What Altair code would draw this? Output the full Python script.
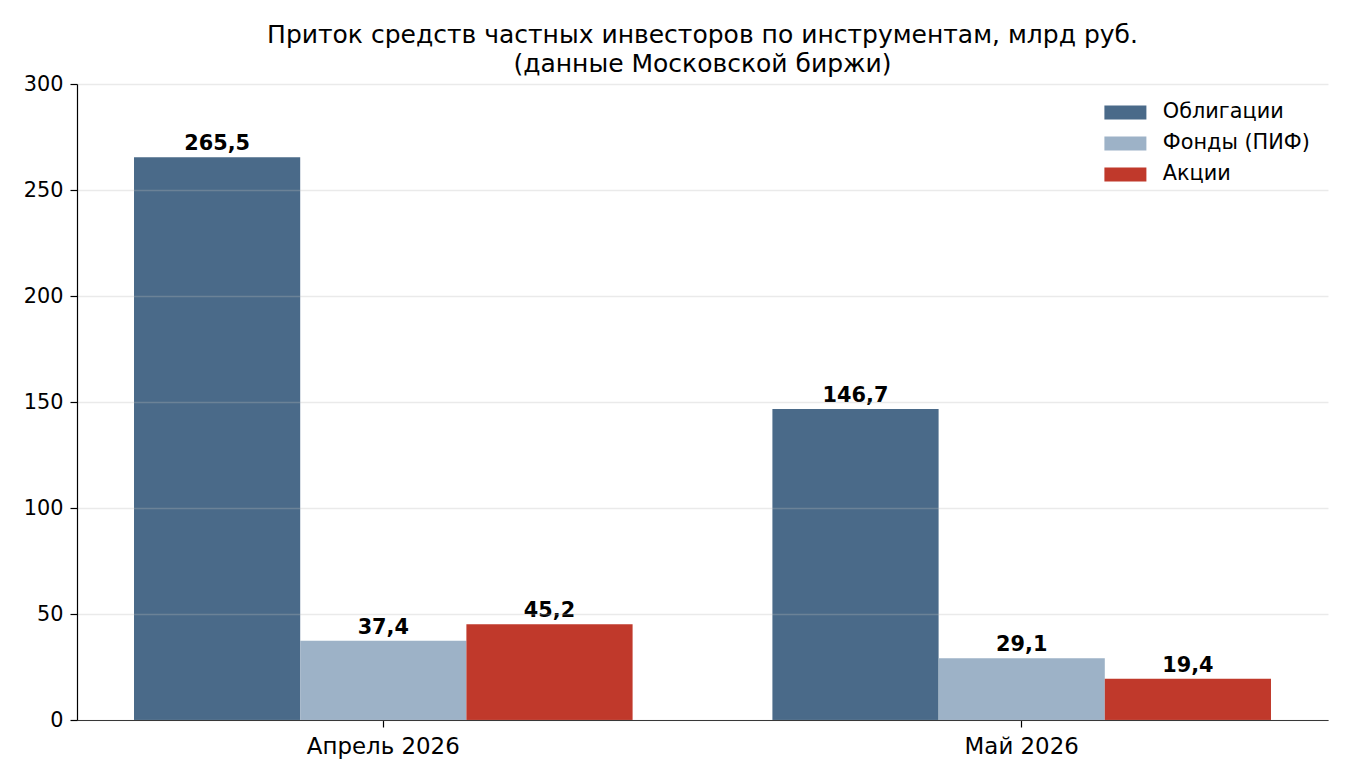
import altair as alt
import pandas as pd

# Monthly inflows by instrument, bn RUB
months = ["Апрель 2026", "Май 2026"]
instruments = ["Облигации", "Фонды (ПИФ)", "Акции"]
bonds = [265.5, 146.7]
funds = [37.4, 29.1]
stocks = [45.2, 19.4]
colors = ["#4a6a89", "#9db2c7", "#c0392b"]
y_ticks = [0, 50, 100, 150, 200, 250, 300]

rows = []
for series, name in zip([bonds, funds, stocks], instruments):
    for month, v in zip(months, series):
        rows.append({
            "month": month,
            "instrument": name,
            "value": v,
            "label": f"{v:.1f}".replace(".", ","),
        })
df = pd.DataFrame(rows)

FONT = "DejaVu Sans"
FS = 20.8

x_enc = alt.X(
    "month:N",
    sort=months,
    title=None,
    scale=alt.Scale(paddingInner=0.219, paddingOuter=0.0893),
    axis=alt.Axis(
        labelAngle=0, labelFontSize=22.9, labelColor="black", labelFont=FONT,
        labelPadding=8, tickSize=7, tickColor="black", domainColor="black",
        domainWidth=1.2, tickWidth=1.2, grid=False,
    ),
)
xoff = alt.XOffset("instrument:N", sort=instruments, scale=alt.Scale(paddingInner=0, paddingOuter=0))
y_enc = alt.Y(
    "value:Q",
    title=None,
    scale=alt.Scale(domain=[0, 300], nice=False),
    axis=alt.Axis(
        values=y_ticks, labelFontSize=FS, labelColor="black", labelFont=FONT,
        labelPadding=7, tickSize=7, tickColor="black", domainColor="black",
        domainWidth=1.2, tickWidth=1.2, grid=True, gridColor="#b8b8b8", gridOpacity=0.3,
        gridWidth=1.5, zindex=1,
    ),
)

bars = alt.Chart(df).mark_bar().encode(
    x=x_enc,
    xOffset=xoff,
    y=y_enc,
    color=alt.Color(
        "instrument:N",
        sort=instruments,
        scale=alt.Scale(domain=instruments, range=colors),
        legend=alt.Legend(
            title=None, orient="top-right", offset=12, padding=6,
            symbolType="M-1,-1L5,-1L5,1L-1,1Z", symbolSize=196,
            symbolStrokeWidth=0, symbolOpacity=1,
            labelOffset=41, labelFontSize=FS, labelFont=FONT, labelColor="black",
            rowPadding=9, labelLimit=300,
        ),
    ),
)

labels = alt.Chart(df).mark_text(
    baseline="alphabetic", dy=-7, fontSize=FS, fontWeight="bold", font=FONT, color="black"
).encode(
    x=x_enc,
    xOffset=xoff,
    y=y_enc,
    text="label:N",
)

chart = alt.layer(bars, labels).properties(
    width=1251,
    height=636,
    autosize=alt.AutoSizeParams(type="none"),
    padding={"left": 77, "top": 84, "right": 22, "bottom": 60},
    title=alt.TitleParams(
        ["Приток средств частных инвесторов по инструментам, млрд руб.", "(данные Московской биржи)"],
        font=FONT, fontSize=25, fontWeight="normal", color="black",
        anchor="middle", lineHeight=29, offset=-4,
    ),
).configure(
    background="white",
    view=alt.ViewConfig(strokeWidth=0, stroke="transparent"),
)

chart.save("out.html", embed_options={"renderer": "svg", "actions": False})
